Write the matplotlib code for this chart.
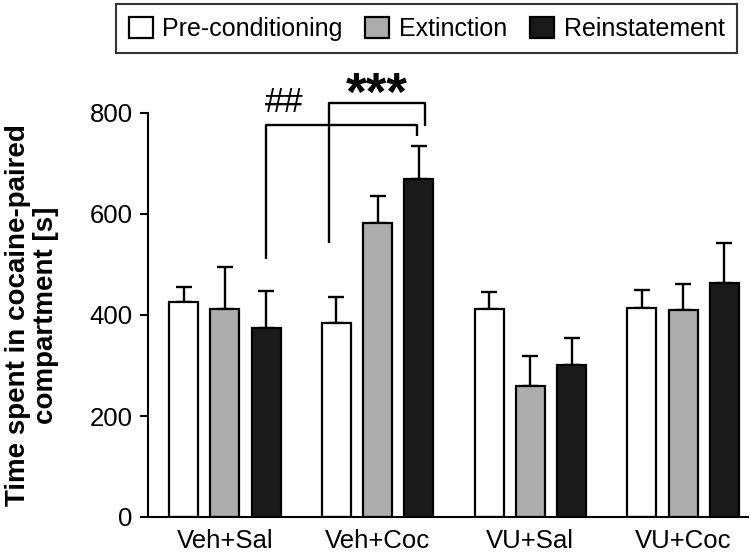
import numpy as np
import matplotlib
matplotlib.use("Agg")
import matplotlib.pyplot as plt
from matplotlib.patches import Patch

plt.rcParams['font.family'] = ['Liberation Sans', 'DejaVu Sans']

groups = ['Veh+Sal', 'Veh+Coc', 'VU+Sal', 'VU+Coc']
phases = ['Pre-conditioning', 'Extinction', 'Reinstatement']
colors = ['white', '#adadad', '#1a1a1a']

# mean time (s) per phase, one list per phase
pre_mean = [426, 384, 412, 414]
ext_mean = [412, 582, 260, 410]
rein_mean = [374, 670, 301, 463]
# SEM (upper only)
pre_sem = [30, 52, 34, 36]
ext_sem = [83, 54, 59, 51]
rein_sem = [74, 65, 53, 79]

means = [pre_mean, ext_mean, rein_mean]
sems = [pre_sem, ext_sem, rein_sem]

fs = 18.5

fig = plt.figure(figsize=(7.5, 5.57), dpi=100)
ax = fig.add_axes([148 / 750, 40 / 557, 600 / 750, 404 / 557])

x = np.arange(len(groups))
step = 0.27
width = 0.19
for i in range(3):
    xs = x + (i - 1) * step
    ax.bar(xs, means[i], width, color=colors[i], edgecolor='black', linewidth=1.6, zorder=2)
    ax.errorbar(xs, means[i], yerr=[np.zeros(len(groups)), sems[i]], fmt='none',
                ecolor='black', elinewidth=1.7, capsize=5.5, capthick=1.7, zorder=1)

# significance brackets
kw = dict(color='black', lw=1.7, clip_on=False, solid_capstyle='butt')
# ## : Veh+Sal reinstatement vs Veh+Coc reinstatement
ax.plot([0 + step, 0 + step, 1 + step - 0.01, 1 + step - 0.01], [511, 776, 776, 754], **kw)
ax.text(0.39, 802, '##', ha='center', va='baseline', fontsize=25)
# *** : Veh+Coc pre vs Veh+Coc reinstatement
ax.plot([1 - step - 0.05, 1 - step - 0.05, 1 + step + 0.04, 1 + step + 0.04], [543, 820, 820, 774], **kw)
ax.text(0.995, 806, '***', ha='center', va='baseline', fontsize=38, fontweight='bold')

ax.set_xlim(-0.504, 3.425)
ax.set_ylim(0, 800)
ax.set_yticks([0, 200, 400, 600, 800])
ax.set_xticks(x)
ax.set_xticklabels(groups)
ax.tick_params(axis='x', length=0, pad=9, labelsize=fs)
ax.tick_params(axis='y', length=6, width=1.5, pad=5, labelsize=fs, direction='out')
for s in ['top', 'right']:
    ax.spines[s].set_visible(False)
for s in ['left', 'bottom']:
    ax.spines[s].set_linewidth(1.5)

ax.set_ylabel('Time spent in cocaine-paired\ncompartment [s]', fontsize=20,
              fontweight='bold', linespacing=1.08, labelpad=22)

handles = [Patch(facecolor=c, edgecolor='black', linewidth=1.6) for c in colors]
leg = fig.legend(handles, phases, loc='upper right', bbox_to_anchor=(737 / 750, 1 - 4 / 557),
                 ncol=3, fontsize=18, frameon=True, fancybox=False, handlelength=0.95,
                 handleheight=0.95, handletextpad=0.4, columnspacing=0.9, borderpad=0.5,
                 borderaxespad=0)
leg.get_frame().set_edgecolor('black')
leg.get_frame().set_linewidth(1.5)

fig.savefig('out.png', dpi=100)
